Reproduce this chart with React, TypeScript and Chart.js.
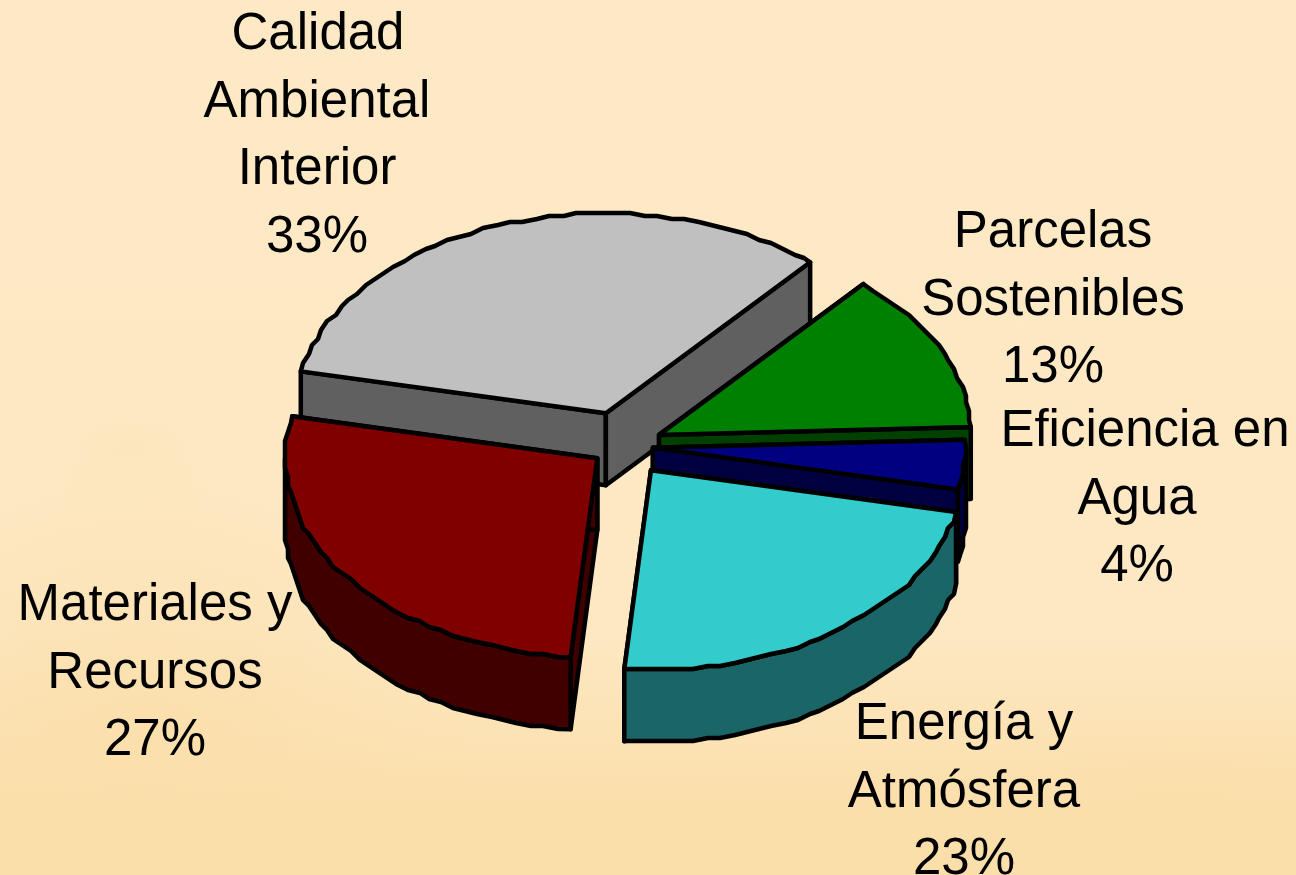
import React, { useEffect, useRef } from "react";
import { Chart, registerables } from "chart.js";

Chart.register(...registerables);

const categories = ["Eficiencia en Agua", "Energía y Atmósfera", "Materiales y Recursos", "Calidad Ambiental Interior", "Parcelas Sostenibles"];
const values = [4, 23, 27, 33, 13];
const topColors = ["#000080", "#33CCCC", "#800000", "#C0C0C0", "#008000"];
const sideColors = ["#000040", "#1A6666", "#400000", "#606060", "#004000"];
const explode = [30, 47, 32, 54, 40];
const paintOrder = [3, 4, 0, 1, 2];

const labelLines = [
  ["Eficiencia en", "Agua"],
  ["Energía y", "Atmósfera"],
  ["Materiales y", "Recursos"],
  ["Calidad", "Ambiental", "Interior"],
  ["Parcelas", "Sostenibles"],
];
const labelCenters = [
  [1137, 446],
  [964, 739],
  [155, 620],
  [317, 49],
  [1053, 247],
];
const firstLineShift = [8, 0, 0, 1, 0];

const TILT = 0.64;
const DEPTH = 72;
const LINE = 67.6;
const FACET = (2.5 * Math.PI) / 180;
const SNAP = 3;

const pie3d = {
  id: "pie3d",
  beforeDatasetsDraw(chart: any) {
    const { ctx } = chart;
    const arcs = chart.getDatasetMeta(0).data;
    ctx.save();
    ctx.lineWidth = 4.5;
    ctx.lineJoin = "round";
    ctx.strokeStyle = "#000";
    for (const i of paintOrder) {
      const { x, y, startAngle: a0, endAngle: a1, outerRadius: r } = arcs[i].getProps(["x", "y", "startAngle", "endAngle", "outerRadius"], true);
      const mid = (a0 + a1) / 2;
      const cx = x + Math.cos(mid) * explode[i];
      const cy = y + Math.sin(mid) * explode[i] * TILT;
      const P = (t: number, z = 0): [number, number] => {
        const isEnd = Math.abs(t - a0) < 1e-6 || Math.abs(t - a1) < 1e-6;
        const px = cx + r * Math.cos(t);
        const py = cy + TILT * r * Math.sin(t);
        return isEnd ? [px, py + z] : [Math.round(px / SNAP) * SNAP, Math.round(py / SNAP) * SNAP + z];
      };
      const ts = (s: number, e: number) => {
        const out: number[] = [];
        for (let t = s; t < e; t += FACET) out.push(t);
        out.push(e);
        return out;
      };
      const shape = (pts: [number, number][], fill: string) => {
        ctx.beginPath();
        pts.forEach((p, k) => (k ? ctx.lineTo(p[0], p[1]) : ctx.moveTo(p[0], p[1])));
        ctx.closePath();
        ctx.fillStyle = fill;
        ctx.fill();
        ctx.stroke();
      };
      // radial faces
      for (const a of [a0, a1]) {
        shape([[cx, cy], P(a), P(a, DEPTH), [cx, cy + DEPTH]], sideColors[i]);
      }
      // outer wall: portions of the rim facing the viewer
      for (const k of [0, 2]) {
        const s = Math.max(a0, k * Math.PI);
        const e = Math.min(a1, k * Math.PI + Math.PI);
        if (e > s) {
          const fwd = ts(s, e);
          shape([...fwd.map((t) => P(t)), ...fwd.slice().reverse().map((t) => P(t, DEPTH))], sideColors[i]);
        }
      }
      // top face
      shape([[cx, cy], ...ts(a0, a1).map((t) => P(t))], topColors[i]);
    }
    ctx.restore();
    return false;
  },
  afterDraw(chart: any) {
    const { ctx } = chart;
    const total = values.reduce((s, v) => s + v, 0);
    ctx.save();
    ctx.font = '51px "Liberation Sans"';
    ctx.fillStyle = "#000";
    ctx.textAlign = "center";
    ctx.textBaseline = "alphabetic";
    labelLines.forEach((lines, i) => {
      const [lx, ly] = labelCenters[i];
      const all = [...lines, `${Math.round((values[i] / total) * 100)}%`];
      all.forEach((t, n) => ctx.fillText(t, lx + (n === 0 ? firstLineShift[i] : 0), ly + n * LINE));
    });
    ctx.restore();
  },
};

const background = [
  "radial-gradient(ellipse 130px 70px at 130px 450px, rgba(247,230,180,.35), transparent)",
  "radial-gradient(ellipse 340px 300px at 140px 760px, rgba(251,223,171,.9), transparent)",
  "radial-gradient(ellipse 240px 110px at 1180px 820px, rgba(251,223,171,.7), transparent)",
  "linear-gradient(180deg, #FDE9C5 0%, #FDE8C3 72%, #FBDFAB 92%, #FBDFAB 100%)",
].join(",");

export default function App() {
  const ref = useRef<HTMLCanvasElement>(null);
  useEffect(() => {
    document.body.style.margin = "0";
    document.body.style.overflow = "hidden";
    const chart = new Chart(ref.current!, {
      type: "pie",
      data: { labels: categories, datasets: [{ data: values, backgroundColor: topColors, borderColor: "#000", borderWidth: 3 }] },
      options: {
        responsive: false,
        animation: false,
        rotation: 87.7,
        radius: 312,
        layout: { padding: { right: 50, top: 17 } },
        plugins: { legend: { display: false }, tooltip: { enabled: false } },
      },
      plugins: [pie3d],
    } as any);
    return () => chart.destroy();
  }, []);
  return (
    <div style={{ width: 1296, height: 875, background }}>
      <canvas ref={ref} width={1296} height={875} style={{ display: "block" }} />
    </div>
  );
}
